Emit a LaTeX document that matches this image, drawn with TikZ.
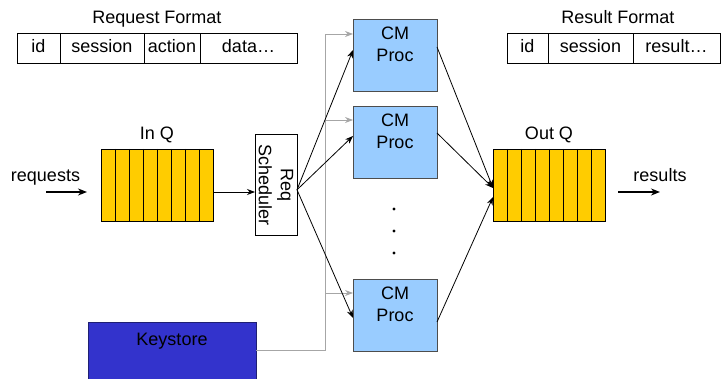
\documentclass[tikz,border=0pt]{standalone}
\usepackage{fontspec}
\setmainfont{Liberation Sans}
\usetikzlibrary{positioning, arrows.meta}
\definecolor{qyellow}{HTML}{FFCC00}
\definecolor{procblue}{HTML}{99CCFF}
\definecolor{procedge}{HTML}{4D4D4D}
\definecolor{keyblue}{HTML}{3333CC}
\definecolor{keyedge}{HTML}{1F1F73}
\definecolor{feedgray}{HTML}{A6A6A6}
\tikzset{
    cell/.style = {rectangle, draw=black, minimum height=30pt, text height=13pt, text depth=3pt, inner sep=0pt, outer sep=0pt},
    queue/.style = {rectangle, draw=black, fill=qyellow, minimum width=112pt, minimum height=72pt, inner sep=0pt, outer sep=0pt},
    proc/.style = {rectangle, draw=procedge, fill=procblue, minimum width=84pt, minimum height=72pt, outer sep=0pt},
    proctext/.style = {align=center, anchor=north, yshift=-4pt},
    sched/.style = {rectangle, draw=black, fill=white, rotate=-90, minimum width=101pt, minimum height=42pt, align=center, inner sep=0pt, outer sep=0pt},
    keybox/.style = {rectangle, draw=keyedge, fill=keyblue, minimum width=168pt, minimum height=64pt, outer sep=0pt},
    arrow/.style = {->, >={Stealth[length=8pt, width=6pt]}},
    feed/.style = {->, >={Stealth[length=8pt, width=6pt]}, draw=feedgray},
    bigarrow/.style = {->, >={Stealth[length=9pt, width=7pt]}, line width=2pt}
}

\begin{document}
\begin{tikzpicture}[x=1pt, y=-1pt, line width=0.8pt, font=\fontsize{18}{22}\selectfont]
\useasboundingbox (0,0) rectangle (721,379);

% message formats
\node (reqfmt) [anchor=base] at (157,23.3) {Request Format};
\node (reqid) [cell, minimum width=43pt] at (38.5,48) {id};
\node (reqsession) [cell, minimum width=84pt, right=0pt of reqid] {session};
\node (reqaction) [cell, minimum width=56pt, right=0pt of reqsession] {action};
\node (reqdata) [cell, minimum width=97pt, right=0pt of reqaction] {data…};

\node (resfmt) [anchor=base] at (618,23.3) {Result Format};
\node (resid) [cell, minimum width=41pt] at (527.5,48) {id};
\node (ressession) [cell, minimum width=85pt, right=0pt of resid] {session};
\node (resresult) [cell, minimum width=87pt, right=0pt of ressession] {result…};

% queues
\node (inq) [queue, label={[label distance=2pt]above:In Q}] at (157,185) {};
\node (outq) [queue, label={[label distance=2pt]above:Out Q}] at (549,185) {};
\foreach \i in {1,...,7} {
    \draw ([xshift=\i*14pt]inq.north west) -- ([xshift=\i*14pt]inq.south west);
    \draw ([xshift=\i*14pt]outq.north west) -- ([xshift=\i*14pt]outq.south west);
}

\node (sched) [sched] at (276,184.8) {Req\\Scheduler};

% workers
\node (cm1) [proc, label={[proctext]north:{CM\\Proc}}] at (395,55.5) {};
\node (cm2) [proc, label={[proctext]north:{CM\\Proc}}] at (395,142) {};
\node (cm3) [proc, label={[proctext]north:{CM\\Proc}}] at (395,315) {};
\foreach \y in {209,231,253}
    \fill (394,\y) circle (1.6pt);

\node (keystore) [keybox, label={[anchor=north, yshift=-7pt]north:Keystore}] at (172,354) {};

% in and out
\node (requests) [anchor=base] at (45.5,181.7) {requests};
\node (results) [anchor=base] at (660,181.7) {results};
\coordinate (reqtail) at (46,192);
\coordinate (reqhead) at (87,192);
\coordinate (restail) at (618,192);
\coordinate (reshead) at (660,192);
\draw [bigarrow] (reqtail) -- (reqhead);
\draw [bigarrow] (restail) -- (reshead);

% keys to the workers
\coordinate (feed1) at ([yshift=21.5pt]cm1.west);
\coordinate (feed2) at ([yshift=22pt]cm2.west);
\coordinate (feed3) at ([yshift=22pt]cm3.west);
\coordinate (trunk) at ([xshift=-28pt]feed1);
\draw [feed] ([yshift=4pt]keystore.east) -| (trunk) -- (feed1);
\draw [feed] (trunk |- feed2) -- (feed2);
\draw [feed] (trunk |- feed3) -- (feed3);

% request flow
\coordinate (inqout) at ([yshift=-7pt]inq.east);
\coordinate (fan) at ([yshift=-5pt]sched.north);
\draw [arrow] (inqout) -- (inqout -| sched.south);
\draw [arrow] (fan) -- ([yshift=5.5pt]cm1.west);
\draw [arrow] (fan) -- ([yshift=6pt]cm2.west);
\draw [arrow] (fan) -- ([yshift=-3pt]cm3.west);
\draw [arrow] ([yshift=8.5pt]cm1.east) -- ([yshift=-3pt]outq.west);
\draw [arrow] ([yshift=9pt]cm2.east) -- ([yshift=-3pt]outq.west);
\draw [arrow] ([yshift=-7pt]cm3.east) -- ([yshift=-12pt]outq.west);
\end{tikzpicture}
\end{document}
